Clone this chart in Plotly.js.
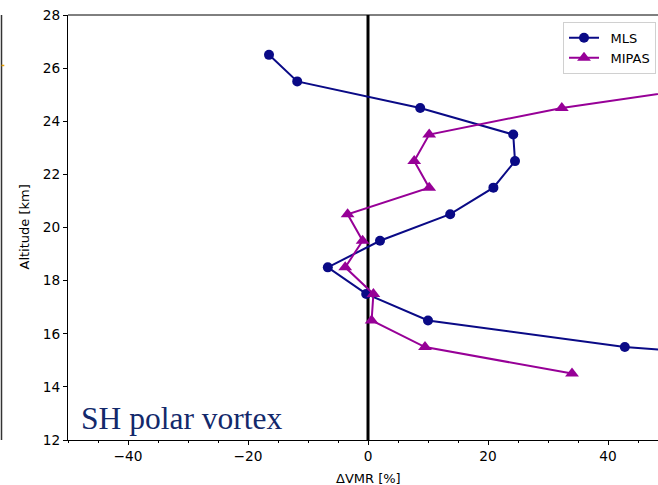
<!DOCTYPE html>
<html>
<head>
<meta charset="utf-8">
<script src="https://cdn.plot.ly/plotly-3.0.1.min.js"></script>
<style>html,body{margin:0;padding:0;background:#fff;}#chart{width:658px;height:485px;}</style>
</head>
<body>
<div id="chart"></div>
<script>
// Data
const mlsAlt = [26.5, 25.5, 24.5, 23.5, 22.5, 21.5, 20.5, 19.5, 18.5, 17.5, 16.5, 15.5, 14.5];
const mlsDVMR = [-16.5, -11.8, 8.7, 24.2, 24.5, 20.9, 13.7, 2.0, -6.7, -0.3, 10.0, 42.8, 100];
const mipasAlt = [25.5, 24.5, 23.5, 22.5, 21.5, 20.5, 19.5, 18.5, 17.5, 16.5, 15.5, 14.5];
const mipasDVMR = [63, 32.3, 10.2, 7.7, 10.2, -3.4, -0.9, -3.8, 0.9, 0.6, 9.5, 34.0];
const xTicks = [-40, -20, 0, 20, 40];
const yTicks = [12, 14, 16, 18, 20, 22, 24, 26, 28];
const seriesNames = ['MLS', 'MIPAS'];
const panelLabel = 'SH polar vortex';

const font = {family: 'DejaVu Sans, sans-serif', size: 13, color: '#000'};
const tickFont = {family: 'DejaVu Sans, sans-serif', size: 13.7, color: '#000'};

const traces = [
  {x: mlsDVMR, y: mlsAlt, name: '\u2002' + seriesNames[0], type: 'scatter', mode: 'lines+markers',
   line: {color: '#0a0a86', width: 2}, marker: {symbol: 'circle', size: 10, color: '#0a0a86'}, cliponaxis: true},
  {x: mipasDVMR, y: mipasAlt, name: '\u2002' + seriesNames[1], type: 'scatter', mode: 'lines+markers',
   line: {color: '#970097', width: 2}, marker: {symbol: 'triangle-up', size: 12, color: '#970097'}, cliponaxis: true}
];

const layout = {
  width: 658, height: 485,
  margin: {l: 68, r: 0, t: 15, b: 45, pad: 0},
  paper_bgcolor: '#fff', plot_bgcolor: '#fff',
  font: font,
  showlegend: true,
  legend: {x: 0.839, y: 0.984, xanchor: 'left', yanchor: 'top', bgcolor: '#fff',
           bordercolor: '#d0d0d0', borderwidth: 1, font: {family: 'DejaVu Sans, sans-serif', size: 13, color: '#000'},
           tracegroupgap: 0, itemwidth: 30, entrywidth: 110, entrywidthmode: 'pixels'},
  xaxis: {range: [-50, 48.33], tickvals: xTicks, ticktext: xTicks.map(v => v < 0 ? '\u2212' + Math.abs(v) : String(v)),
          ticks: 'outside', ticklen: 4, tickcolor: '#000', tickwidth: 1,
          showline: true, linecolor: '#000', linewidth: 1, showgrid: false, zeroline: false,
          minor: {dtick: 5, tick0: 0, ticks: 'outside', ticklen: 2, tickcolor: '#000', tickwidth: 1, showgrid: false},
          automargin: false, tickfont: tickFont},
  yaxis: {range: [12, 28], tickvals: yTicks, ticks: 'outside', ticklen: 4, tickcolor: '#000', tickwidth: 1,
          showline: true, linecolor: '#000', linewidth: 1, showgrid: false, zeroline: false,
          automargin: false, tickfont: tickFont},
  shapes: [
    {type: 'line', xref: 'x', yref: 'paper', x0: 0, x1: 0, y0: 0, y1: 1, line: {color: '#000', width: 3}, layer: 'below'},
    {type: 'line', xref: 'paper', yref: 'paper', x0: 0, x1: 1, y0: 1, y1: 1, line: {color: '#000', width: 1}},
    {type: 'line', xref: 'paper', yref: 'paper', x0: -0.1127, x1: -0.1127, y0: 0, y1: 1, line: {color: '#333', width: 1.5}},
    {type: 'line', xref: 'paper', yref: 'y', x0: -0.1127, x1: -0.108, y0: 26.1, y1: 26.1, line: {color: '#e8a000', width: 1.5}}
  ],
  annotations: [
    {text: panelLabel, xref: 'paper', yref: 'paper', x: 0.019, y: 0.05, xanchor: 'left', yanchor: 'middle',
     showarrow: false, font: {family: 'Liberation Serif, Times New Roman, serif', size: 31.5, color: '#13296b'}},
    {text: '\u0394VMR [%]', xref: 'paper', yref: 'paper', x: (368 - 68) / 590, y: -0.09, xanchor: 'center', yanchor: 'middle',
     showarrow: false, font: font},
    {text: 'Altitude [km]', xref: 'paper', yref: 'paper', x: (24 - 68) / 590, y: 0.5, xanchor: 'center', yanchor: 'middle',
     textangle: -90, showarrow: false, font: font}
  ]
};

Plotly.newPlot('chart', traces, layout, {displayModeBar: false, staticPlot: true});
</script>
</body>
</html>
